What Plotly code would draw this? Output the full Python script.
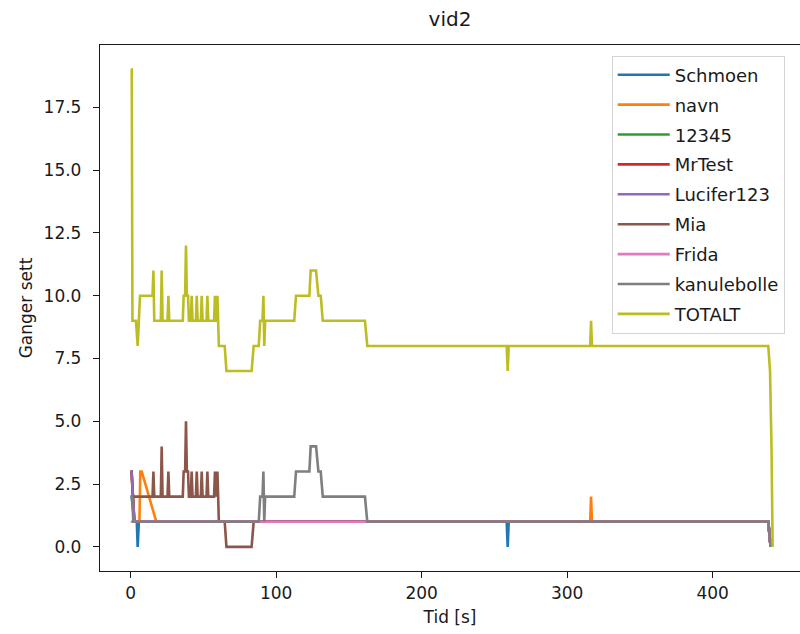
import plotly.graph_objects as go

# Viewing counts per user over time for video "vid2"
names = ["Schmoen", "navn", "12345", "MrTest", "Lucifer123", "Mia", "Frida", "kanulebolle", "TOTALT"]
colors = ["#1f77b4", "#ff7f0e", "#2ca02c", "#d62728", "#9467bd",
          "#8c564b", "#e377c2", "#7f7f7f", "#bcbd22"]

schmoen_t = [0, 0.6, 2.5, 4.2, 4.8, 5.6, 258.4, 259.1, 259.8, 438.2, 439.8]
schmoen_v = [2, 2, 1, 1, 0, 1, 1, 0, 1, 1, 0]

navn_t = [0, 0.6, 2.5, 6.0, 6.6, 7.6, 17.6, 315.8, 316.4, 317.0, 438.2, 439.8]
navn_v = [3, 3, 1, 1, 3, 3, 1, 1, 2, 1, 1, 0]

n12345_t = [0, 0.6, 2.5, 438.2, 439.8]
n12345_v = [3, 3, 1, 1, 0]

mrtest_t = [0, 0.6, 2.5, 438.2, 439.8]
mrtest_v = [3, 3, 1, 1, 0]

lucifer_t = [0, 0.6, 2.5, 438.2, 439.8]
lucifer_v = [3, 3, 1, 1, 0]

mia_t = [0, 15.0, 15.6, 16.2, 20.7, 21.3, 21.9, 25.3, 25.9, 26.5,
         35.8, 36.4, 37.4, 38.0, 38.6, 39.4, 40.0,
         41.3, 41.9, 42.5, 44.8, 45.4, 46.0, 48.2, 48.8, 49.4,
         52.1, 52.7, 53.3, 57.3, 57.9, 58.5, 59.0, 59.6, 60.6,
         64.6, 65.8, 83.1, 84.5, 438.2, 439.8]
mia_v = [2, 2, 3, 2, 2, 4, 2, 2, 3, 2,
         2, 3, 3, 5, 3, 3, 2,
         2, 3, 2, 2, 3, 2, 2, 3, 2,
         2, 3, 2, 2, 3, 2, 2, 3, 1,
         1, 0, 0, 1, 1, 0]

frida_t = [0, 438.2, 439.8]
frida_v = [1, 1, 0]

kanul_t = [0, 1.0, 1.8, 88.0, 89.0, 90.6, 91.2, 91.8, 92.4,
           112.4, 113.6, 122.8, 123.7, 127.4, 129.0, 130.6, 132.0,
           161.0, 162.6, 438.2, 439.8]
kanul_v = [2, 2, 1, 1, 2, 2, 3, 1, 2,
           2, 3, 3, 4, 4, 3, 3, 2,
           2, 1, 1, 0]

total_t = [0, 0.7, 1.2, 3.6, 4.8, 5.6, 6.4, 15.0, 15.6, 16.2,
           20.7, 21.3, 21.9, 25.3, 25.9, 26.5,
           35.8, 36.4, 37.4, 38.0, 38.6, 39.4, 40.0,
           41.3, 41.9, 42.5, 44.8, 45.4, 46.0, 48.2, 48.8, 49.4,
           52.1, 52.7, 53.3, 57.3, 57.9, 58.5, 59.0, 59.6, 60.6,
           64.6, 65.8, 83.1, 84.5, 88.0, 89.0, 90.6, 91.2, 91.8, 92.4,
           112.4, 113.6, 122.8, 123.7, 127.4, 129.0, 130.6, 132.0,
           161.0, 162.6, 258.4, 259.1, 259.8, 315.8, 316.4, 317.0,
           438.2, 439.4, 440.4, 441.2]
total_v = [19, 19, 9, 9, 8, 9, 10, 10, 11, 9,
           9, 11, 9, 9, 10, 9,
           9, 10, 10, 12, 10, 10, 9,
           9, 10, 9, 9, 10, 9, 9, 10, 9,
           9, 10, 9, 9, 10, 9, 9, 10, 8,
           8, 7, 7, 8, 8, 9, 9, 10, 8, 9,
           9, 10, 10, 11, 11, 10, 10, 9,
           9, 8, 8, 7, 8, 8, 9, 8,
           8, 7, 4, 0]

series = [(schmoen_t, schmoen_v), (navn_t, navn_v), (n12345_t, n12345_v),
          (mrtest_t, mrtest_v), (lucifer_t, lucifer_v), (mia_t, mia_v),
          (frida_t, frida_v), (kanul_t, kanul_v), (total_t, total_v)]

x_ticks = [0, 100, 200, 300, 400]
y_ticks = [0.0, 2.5, 5.0, 7.5, 10.0, 12.5, 15.0, 17.5]

fig = go.Figure()
for i, (name, color, (t, v)) in enumerate(zip(names, colors, series)):
    fig.add_trace(go.Scatter(
        x=t, y=v, mode="lines", name=name, legendgroup=f"g{i}",
        line=dict(color=color, width=2.6),
    ))

font_family = "DejaVu Sans"
ink = "#1a1a1a"

fig.update_layout(
    width=800, height=634,
    margin=dict(l=100, r=0, t=45, b=63),
    paper_bgcolor="white", plot_bgcolor="white",
    font=dict(family=font_family, size=17, color=ink),
    title=dict(text="vid2", x=0.5, xref="paper", xanchor="center",
               y=1 - 19 / 634, yref="container", yanchor="middle",
               font=dict(size=20, color=ink)),
    showlegend=True,
    legend=dict(x=0.731, y=0.98, xanchor="left", yanchor="top",
                bgcolor="rgba(255,255,255,0.85)", bordercolor="#d4d4d4",
                borderwidth=1, traceorder="grouped", tracegroupgap=3.5,
                itemwidth=52,
                font=dict(size=18, color=ink)),
)

fig.update_xaxes(
    range=[-21.1, 460.0], tickvals=x_ticks, ticks="outside", ticklen=6,
    tickwidth=1.2, tickcolor=ink, showline=True, linecolor=ink, linewidth=1.3,
    mirror=True, showgrid=False, zeroline=False,
    title=dict(text="Tid [s]", standoff=9, font=dict(size=17, color=ink)),
)
fig.update_yaxes(
    range=[-0.96, 19.98], tickvals=y_ticks, tickformat=".1f", ticks="outside",
    ticklen=6, tickwidth=1.2, tickcolor=ink, showline=True, linecolor=ink,
    linewidth=1.3, mirror=False, showgrid=False, zeroline=False,
    ticklabelstandoff=8,
    title=dict(text="Ganger sett", standoff=6, font=dict(size=17, color=ink)),
)

fig.write_html("out.html")
